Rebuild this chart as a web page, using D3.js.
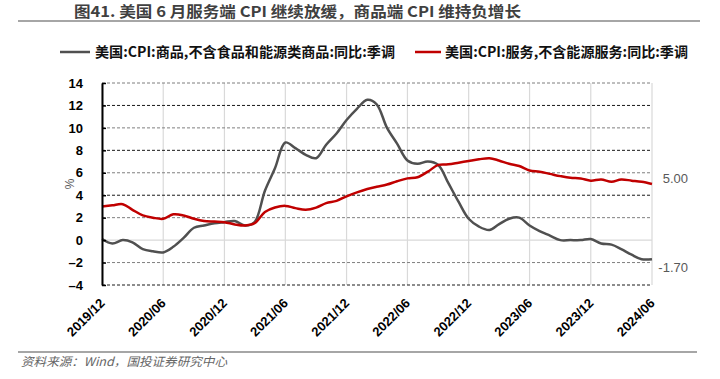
<!DOCTYPE html>
<html>
<head>
<meta charset="utf-8">
<script src="https://cdn.jsdelivr.net/npm/d3@7"></script>
<style>
  body { margin: 0; background: #fff; }
  svg { display: block; }
</style>
</head>
<body>
<div id="chart"></div>
<script>
// Monthly data, 2019/12 .. 2024/06
const startMonth = new Date(2019, 11, 1);
const endMonth = new Date(2024, 5, 1);
const months = d3.timeMonth.range(startMonth, d3.timeMonth.offset(endMonth, 1));

// Core goods CPI YoY (grey)
const goods = [
  0.1, -0.3, 0.0, -0.2, -0.8, -1.0, -1.1, -0.6, 0.2, 1.1, 1.3, 1.5,
  1.6, 1.7, 1.3, 1.6, 4.4, 6.4, 8.7, 8.2, 7.6, 7.3, 8.5, 9.5,
  10.7, 11.7, 12.5, 12.1, 10.0, 8.6, 7.1, 6.8, 7.0, 6.7, 5.1, 3.4,
  1.9, 1.2, 0.9, 1.4, 1.9, 2.0, 1.3, 0.8, 0.4, 0.0, 0.0, 0.0,
  0.1, -0.3, -0.4, -0.8, -1.3, -1.7, -1.7
];

// Core services CPI YoY (red)
const services = [
  3.0, 3.1, 3.2, 2.7, 2.2, 2.0, 1.9, 2.3, 2.2, 1.9, 1.7, 1.65,
  1.6, 1.4, 1.3, 1.5, 2.5, 2.9, 3.05, 2.85, 2.7, 2.9, 3.3, 3.5,
  3.9, 4.25, 4.55, 4.75, 4.95, 5.25, 5.5, 5.6, 6.1, 6.7, 6.75, 6.9,
  7.05, 7.2, 7.3, 7.1, 6.8, 6.6, 6.2, 6.1, 5.9, 5.7, 5.55, 5.5,
  5.3, 5.4, 5.2, 5.4, 5.3, 5.2, 5.0
];

const xTickLabels = ["2019/12", "2020/06", "2020/12", "2021/06", "2021/12",
                     "2022/06", "2022/12", "2023/06", "2023/12", "2024/06"];
const yTicks = [-4, -2, 0, 2, 4, 6, 8, 10, 12, 14];
const endLabels = [{ value: 5.00, text: "5.00", dy: -6 }, { value: -1.70, text: "-1.70", dy: 8 }];

const titleText = "图41. 美国 6 月服务端 CPI 继续放缓，商品端 CPI 维持负增长";
const legendNames = ["美国:CPI:商品,不含食品和能源类商品:同比:季调", "美国:CPI:服务,不含能源服务:同比:季调"];
const sourceText = "资料来源：Wind，国投证券研究中心";

const W = 720, H = 379;
const plot = { left: 102, right: 652, top: 83, bottom: 285 };
const numFont = "'Liberation Sans', Arial, sans-serif";
const cjkFont = "'Noto Sans CJK SC', sans-serif";

const svg = d3.select("#chart").append("svg")
  .attr("width", W)
  .attr("height", H);

const parseLabel = d3.timeParse("%Y/%m");

const x = d3.scaleTime()
  .domain([startMonth, endMonth])
  .range([plot.left, plot.right]);

const y = d3.scaleLinear()
  .domain([-4, 14])
  .range([plot.bottom, plot.top]);

// Title and rule
svg.append("text")
  .attr("x", 74)
  .attr("y", 17)
  .attr("textLength", 447)
  .attr("lengthAdjust", "spacingAndGlyphs")
  .style("font-family", cjkFont)
  .style("font-size", "15px")
  .style("font-weight", "bold")
  .attr("fill", "#404040")
  .text(titleText);

svg.append("line")
  .attr("x1", 18).attr("x2", 700)
  .attr("y1", 21).attr("y2", 21)
  .attr("stroke", "#a6a6a6")
  .attr("stroke-width", 2);

// Legend
const legendItems = [
  { name: legendNames[0], color: "#505050", x0: 60, x1: 90, tx: 95, len: 300 },
  { name: legendNames[1], color: "#c00000", x0: 415, x1: 441, tx: 445, len: 243 }
];
const legend = svg.append("g");
legend.selectAll("line")
  .data(legendItems)
  .enter().append("line")
  .attr("x1", d => d.x0).attr("x2", d => d.x1)
  .attr("y1", 52).attr("y2", 52)
  .attr("stroke", d => d.color)
  .attr("stroke-width", 2.5);
legend.selectAll("text")
  .data(legendItems)
  .enter().append("text")
  .attr("x", d => d.tx)
  .attr("y", 57)
  .attr("textLength", d => d.len)
  .attr("lengthAdjust", "spacingAndGlyphs")
  .style("font-family", cjkFont)
  .style("font-size", "14px")
  .style("font-weight", "bold")
  .attr("fill", "#111")
  .text(d => d.name);

// Vertical gridlines
const xTickDates = xTickLabels.map(parseLabel);
svg.append("g")
  .selectAll("line")
  .data(xTickDates)
  .enter().append("line")
  .attr("x1", d => x(d)).attr("x2", d => x(d))
  .attr("y1", plot.top).attr("y2", plot.bottom)
  .attr("stroke", "#d9d9d9")
  .attr("stroke-width", 1.2);

// Horizontal gridlines (dashed, zero line solid light)
svg.append("g")
  .selectAll("line")
  .data(yTicks)
  .enter().append("line")
  .attr("x1", plot.left).attr("x2", plot.right)
  .attr("y1", d => y(d)).attr("y2", d => y(d))
  .attr("stroke", d => d === 0 ? "#d9d9d9" : (Math.abs(d / 2) % 2 === 1 ? "#7f7f7f" : "#1a1a1a"))
  .attr("stroke-width", d => d === 0 ? 1.2 : 1)
  .attr("stroke-dasharray", d => d === 0 ? null : "3,2");

// Lines
const line = d3.line()
  .x((d, i) => x(months[i]))
  .y(d => y(d))
  .curve(d3.curveCatmullRom.alpha(0.5));

svg.append("path")
  .datum(goods)
  .attr("fill", "none")
  .attr("stroke", "#505050")
  .attr("stroke-width", 2.5)
  .attr("d", line);

svg.append("path")
  .datum(services)
  .attr("fill", "none")
  .attr("stroke", "#c00000")
  .attr("stroke-width", 2.5)
  .attr("d", line);

// Y axis
const yAxis = svg.append("g")
  .attr("transform", `translate(${plot.left},0)`)
  .call(d3.axisLeft(y).tickValues(yTicks).tickSize(-4).tickSizeOuter(0).tickPadding(19)
    .tickFormat(d => d < 0 ? "–" + Math.abs(d) : d));
yAxis.select(".domain").attr("stroke", "#000").attr("stroke-width", 2);
yAxis.selectAll(".tick line").attr("stroke", "#000").attr("stroke-width", 1.5);
yAxis.selectAll("text")
  .style("font-family", numFont)
  .style("font-size", "13px")
  .style("font-weight", "bold")
  .attr("fill", "#000");

svg.append("text")
  .attr("transform", `translate(74,${y(5)}) rotate(-90)`)
  .attr("text-anchor", "middle")
  .style("font-family", numFont)
  .style("font-size", "12px")
  .attr("fill", "#595959")
  .text("%");

// X axis labels
const xAxis = svg.append("g")
  .attr("transform", `translate(0,${plot.bottom})`)
  .call(d3.axisBottom(x).tickValues(xTickDates).tickSize(0).tickFormat(d3.timeFormat("%Y/%m")));
xAxis.select(".domain").remove();
xAxis.selectAll("text")
  .attr("x", 0).attr("y", 0).attr("dy", 0)
  .attr("transform", "translate(3,19) rotate(-45)")
  .style("text-anchor", "end")
  .style("font-family", numFont)
  .style("font-size", "13px")
  .style("font-weight", "bold")
  .attr("fill", "#000");

// End value labels
svg.append("g")
  .selectAll("text")
  .data(endLabels)
  .enter().append("text")
  .attr("x", 688)
  .attr("y", d => y(d.value) + d.dy + 4.5)
  .attr("text-anchor", "end")
  .style("font-family", numFont)
  .style("font-size", "13px")
  .attr("fill", "#595959")
  .text(d => d.text);

// Source
svg.append("line")
  .attr("x1", 18).attr("x2", 697)
  .attr("y1", 352).attr("y2", 352)
  .attr("stroke", "#a6a6a6")
  .attr("stroke-width", 2);

svg.append("text")
  .attr("x", 21)
  .attr("y", 366)
  .attr("textLength", 206)
  .attr("lengthAdjust", "spacingAndGlyphs")
  .style("font-family", cjkFont)
  .style("font-size", "12px")
  .style("font-style", "italic")
  .attr("fill", "#666")
  .text(sourceText);
</script>
</body>
</html>
